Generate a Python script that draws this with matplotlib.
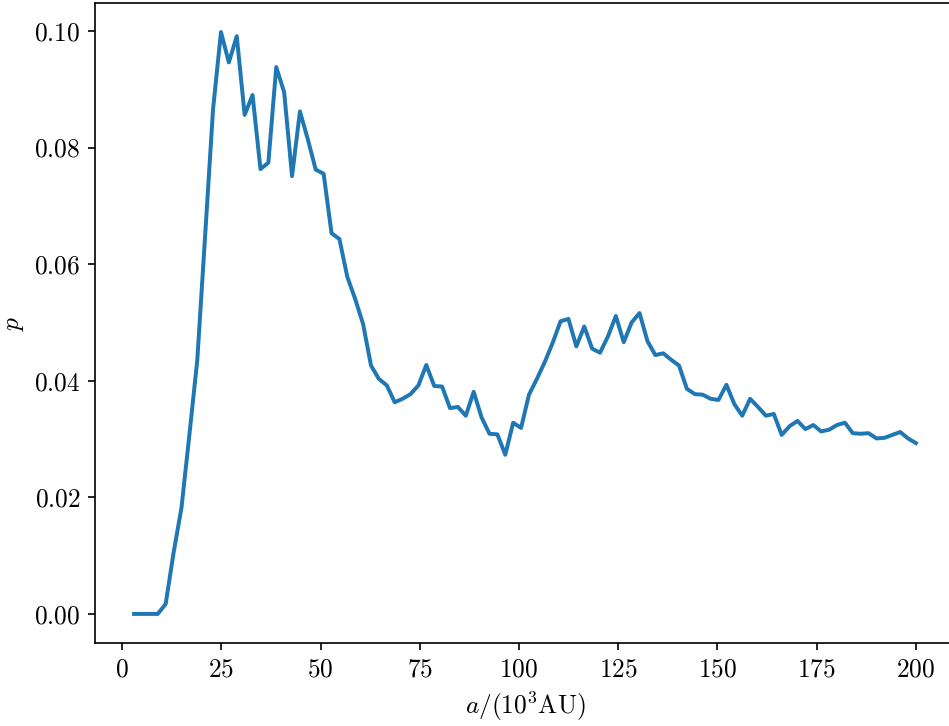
import numpy as np
import matplotlib
matplotlib.use('Agg')
import matplotlib.pyplot as plt

plt.rcParams['font.family'] = 'serif'
plt.rcParams['font.serif'] = ['cmr10', 'DejaVu Serif']
plt.rcParams['mathtext.fontset'] = 'cm'
plt.rcParams['axes.formatter.use_mathtext'] = True
plt.rcParams['font.size'] = 12.2

# semi-major axis grid (10^3 AU)
a = [3.0, 4.99, 6.98, 8.97, 10.96, 12.95, 14.94, 16.93, 18.92, 20.91,
     22.9, 24.89, 26.88, 28.87, 30.86, 32.85, 34.84, 36.83, 38.82, 40.81,
     42.8, 44.79, 46.78, 48.77, 50.76, 52.75, 54.74, 56.73, 58.72, 60.71,
     62.7, 64.69, 66.68, 68.67, 70.66, 72.65, 74.64, 76.63, 78.62, 80.61,
     82.6, 84.59, 86.58, 88.57, 90.56, 92.55, 94.54, 96.53, 98.52, 100.51,
     102.5, 104.49, 106.48, 108.47, 110.46, 112.45, 114.44, 116.43, 118.42, 120.41,
     122.4, 124.39, 126.38, 128.37, 130.36, 132.35, 134.34, 136.33, 138.32, 140.31,
     142.3, 144.29, 146.28, 148.27, 150.26, 152.25, 154.24, 156.23, 158.22, 160.21,
     162.2, 164.19, 166.18, 168.17, 170.16, 172.15, 174.14, 176.13, 178.12, 180.11,
     182.1, 184.09, 186.08, 188.07, 190.06, 192.05, 194.04, 196.03, 198.02, 200.0]

p = [0.0, 0.0, 0.0, 0.0, 0.0017, 0.0105, 0.0182, 0.0307, 0.0435, 0.0650,
     0.0866, 0.0998, 0.0946, 0.0991, 0.0856, 0.0890, 0.0763, 0.0774, 0.0938, 0.0895,
     0.0751, 0.0862, 0.0814, 0.0762, 0.0755, 0.0653, 0.0643, 0.0578, 0.0540, 0.0497,
     0.0426, 0.0403, 0.0392, 0.0363, 0.0369, 0.0377, 0.0392, 0.0427, 0.0391, 0.0390,
     0.0353, 0.0355, 0.0340, 0.0381, 0.0337, 0.0309, 0.0308, 0.0273, 0.0328, 0.0319,
     0.0376, 0.0403, 0.0432, 0.0465, 0.0502, 0.0506, 0.0459, 0.0493, 0.0455, 0.0448,
     0.0476, 0.0511, 0.0466, 0.0500, 0.0516, 0.0468, 0.0444, 0.0447, 0.0436, 0.0426,
     0.0386, 0.0377, 0.0376, 0.0369, 0.0367, 0.0393, 0.0360, 0.0340, 0.0369, 0.0355,
     0.0340, 0.0343, 0.0307, 0.0322, 0.0331, 0.0317, 0.0324, 0.0313, 0.0316, 0.0324,
     0.0328, 0.0310, 0.0309, 0.0310, 0.0301, 0.0302, 0.0307, 0.0312, 0.0301, 0.0293]

fig = plt.figure(figsize=(949 / 150, 726 / 150), dpi=150)
ax = fig.add_axes([95 / 949, 83 / 726, 860 / 949, 640 / 726])
ax.plot(a, p, color='#1f77b4', lw=1.9)
ax.set_xticks([0, 25, 50, 75, 100, 125, 150, 175, 200])
ax.set_xlabel(r'$a/(10^3\mathrm{AU})$')
ax.set_ylabel(r'$p$')

fig.savefig('out.png', dpi=150)
